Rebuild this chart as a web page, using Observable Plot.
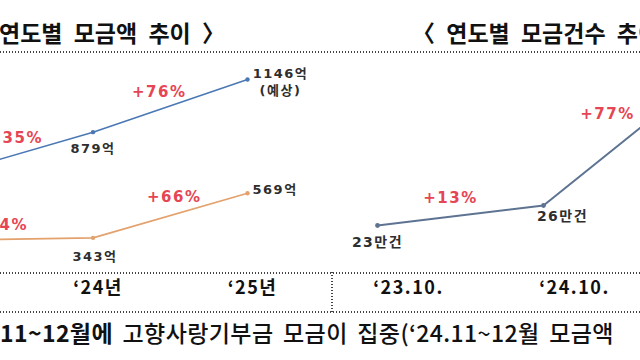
<!DOCTYPE html>
<html>
<head>
<meta charset="utf-8">
<script src="https://cdn.jsdelivr.net/npm/d3@7"></script>
<script src="https://cdn.jsdelivr.net/npm/@observablehq/plot@0.6"></script>
<style>
  html, body { margin: 0; padding: 0; background: #fff; }
  #root { position: relative; width: 640px; height: 360px; overflow: hidden; background: #fff; font-family: "Noto Sans CJK KR", sans-serif; }
  .title { position: absolute; top: 19px; font-size: 23px; font-weight: 700; line-height: 26px; color: #111; white-space: nowrap; word-spacing: 6px; }
  .hr { position: absolute; left: 0; width: 640px; height: 2px;
        background: repeating-linear-gradient(90deg, #444 0 1.5px, transparent 1.5px 3px); }
  .vr { position: absolute; width: 2px;
        background: repeating-linear-gradient(180deg, #444 0 1.5px, transparent 1.5px 3px); }
  .panel { position: absolute; top: 0; }
  .panel svg { overflow: hidden; background: transparent; }
  .panel svg text { letter-spacing: 1.5px; }
  .panel g[aria-label="xlabel"] text { letter-spacing: 0; }
  .foot { position: absolute; left: 0; top: 317px; font-size: 23px; font-weight: 500; line-height: 30px; color: #111; white-space: nowrap; word-spacing: 4px; letter-spacing: 0.4px; }
</style>
</head>
<body>
<div id="root">
  <div class="title" style="left:-1px">연도별 모금액 추이 〉</div>
  <div class="title" style="left:412px">〈 연도별 모금건수 추이 〉</div>
  <div class="hr" style="top:51px"></div>
  <div class="panel" id="left" style="left:0"></div>
  <div class="panel" id="right" style="left:332px"></div>
  <div class="hr" style="top:272px"></div>
  <div class="hr" style="top:311px"></div>
  <div class="vr" style="left:331px;top:272px;height:40px"></div>
  <div class="foot"><span style="font-weight:700">11~12월에</span> 고향사랑기부금 모금이 집중(‘24.11~12월 모금액</div>
</div>
<script>
// ---- data ----
const years = [2023, 2024, 2025];
const yearTicks = ["‘23년", "‘24년", "‘25년"];
const amountTotal = [651, 879, 1146];          // 억, blue
const amountTotalLabels = ["651억", "879억", "1146억\n(예상)"];
const amountTotalPct = ["+35%", "+76%"];
const amountSub = [330, 343, 569];             // 억, orange
const amountSubLabels = ["330억", "343억", "569억"];
const amountSubPct = ["+4%", "+66%"];

const countYears = [2023, 2024, 2025];
const countTicks = ["‘23.10.", "‘24.10.", "‘25.10."];
const counts = [23, 26, 46];                   // 만건
const countLabels = ["23만건", "26만건", "46만건"];
const countPct = ["+13%", "+77%"];

// ---- styles ----
const BLUE = "#4a78b5", ORANGE = "#e3a16c", SLATE = "#5d7391";
const RED = "#e64553", INK = "#2e2e2e";
const NUMFONT = "DejaVu Sans, Noto Sans CJK KR, sans-serif";

const rows = (xs, vs, labels) => xs.map((x, i) => ({x, v: vs[i], label: labels[i], i}));
const segs = (xs, vs, labels) => labels.map((label, i) => ({x: (xs[i] + xs[i + 1]) / 2, v: (vs[i] + vs[i + 1]) / 2, label, i}));

function pctMarks(data, offsets) {
  return data.map((d, k) => Plot.text([d], {
    x: "x", y: "v", text: "label", dx: offsets[k][0], dy: offsets[k][1],
    fill: RED, fontSize: 15, fontWeight: 700, fontFamily: NUMFONT
  }));
}

// ---- left panel ----
const blue = rows(years, amountTotal, amountTotalLabels);
const orange = rows(years, amountSub, amountSubLabels);
const ticksL = years.map((x, i) => ({x, label: yearTicks[i]}));
const valText = {x: "x", y: "v", text: "label", fill: INK, fontSize: 13, fontWeight: 700, fontFamily: NUMFONT};

const left = Plot.plot({
  width: 332, height: 360, margin: 0,
  x: {domain: [2023, 2025], range: [-62, 247], axis: null},
  y: {domain: [0, 1146], range: [305, 79], axis: null},
  marks: [
    Plot.line(blue, {x: "x", y: "v", stroke: BLUE, strokeWidth: 1.6}),
    Plot.dot(blue, {x: "x", y: "v", r: 2.2, fill: BLUE}),
    Plot.line(orange, {x: "x", y: "v", stroke: ORANGE, strokeWidth: 1.6}),
    Plot.dot(orange, {x: "x", y: "v", r: 2.2, fill: ORANGE}),
    ...pctMarks(segs(years, amountTotal, amountTotalPct), [[0, -16], [-11, -14]]),
    ...pctMarks(segs(years, amountSub, amountSubPct), [[-9, -14], [4, -18]]),
    Plot.text(blue.slice(0, 2), {...valText, dy: 17}),
    Plot.text(blue.slice(2), {...valText, dx: 33, dy: 2, lineHeight: 1.3}),
    Plot.text(orange.slice(0, 2), {...valText, dx: 2, dy: 19}),
    Plot.text(orange.slice(2), {...valText, textAnchor: "start", dx: 5, dy: -3}),
    Plot.text(ticksL, {x: "x", text: "label", frameAnchor: "bottom", dx: 5, dy: -67, ariaLabel: "xlabel",
      fill: "#111", fontSize: 18, fontWeight: 700, fontFamily: "Noto Sans CJK KR, sans-serif"})
  ]
});
document.getElementById("left").appendChild(left);

// ---- right panel ----
const cnt = rows(countYears, counts, countLabels);
const ticksR = countYears.map((x, i) => ({x, label: countTicks[i]}));

const right = Plot.plot({
  width: 308, height: 360, margin: 0,
  x: {domain: [2023, 2025], range: [45, 377], axis: null},
  y: {domain: [23, 26], range: [225, 205], axis: null},
  marks: [
    Plot.line(cnt, {x: "x", y: "v", stroke: SLATE, strokeWidth: 2}),
    Plot.dot(cnt, {x: "x", y: "v", r: 2.4, fill: SLATE}),
    ...pctMarks(segs(countYears, counts, countPct), [[-10, -17], [-19, -25]]),
    Plot.text(cnt.slice(0, 1), {x: "x", y: "v", text: "label", dy: 17, fill: INK, fontSize: 14, fontWeight: 700, fontFamily: NUMFONT}),
    Plot.text(cnt.slice(1), {x: "x", y: "v", text: "label", dx: 19, dy: 11, fill: INK, fontSize: 14, fontWeight: 700, fontFamily: NUMFONT}),
    Plot.text(ticksR, {x: "x", text: "label", frameAnchor: "bottom", dx: 31, dy: -67, ariaLabel: "xlabel",
      fill: "#111", fontSize: 18, fontWeight: 700, fontFamily: "Noto Sans CJK KR, sans-serif"})
  ]
});
document.getElementById("right").appendChild(right);
</script>
</body>
</html>
